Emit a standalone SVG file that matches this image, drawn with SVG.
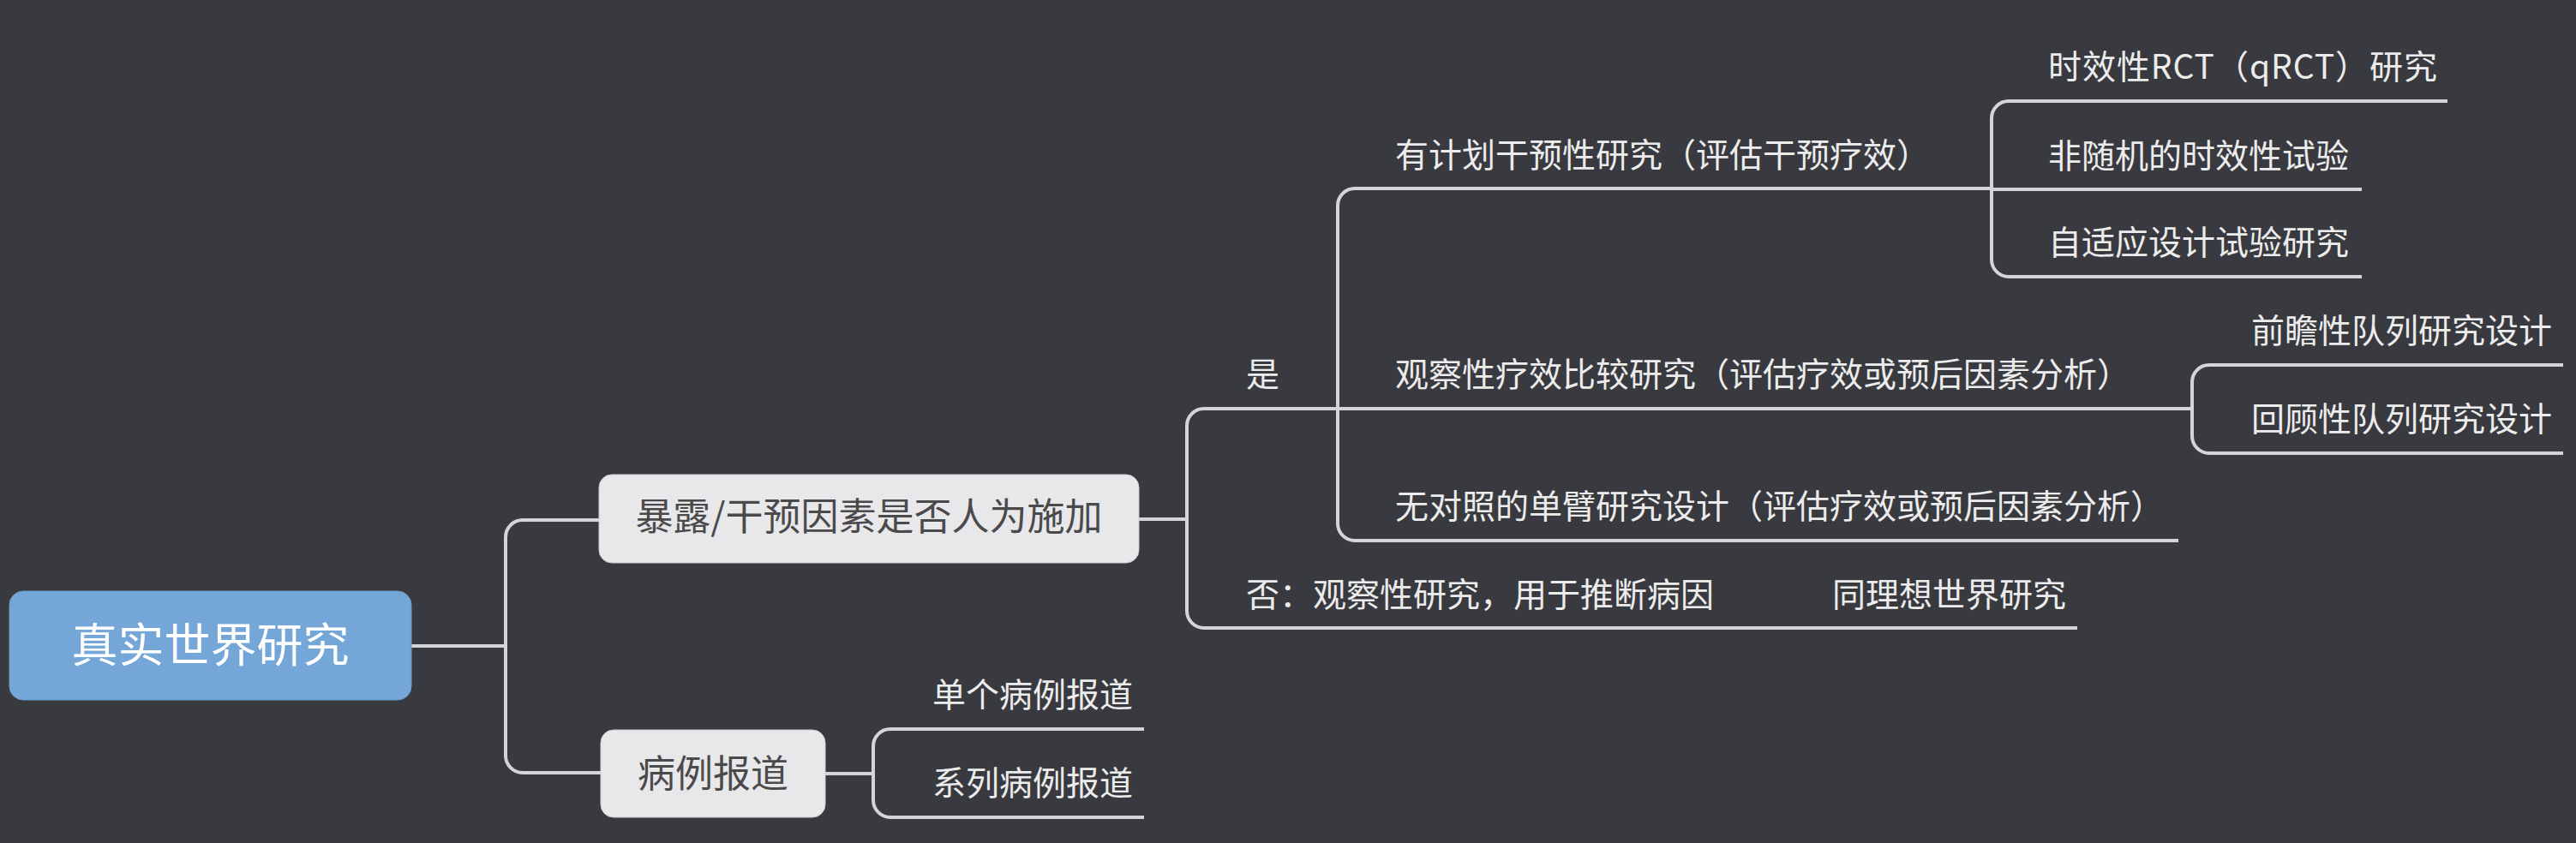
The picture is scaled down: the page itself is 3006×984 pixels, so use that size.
<svg xmlns="http://www.w3.org/2000/svg" width="3006" height="984" viewBox="0 0 3006 984">
<style>
.bg{fill:#393a3f}
.conn path{fill:none;stroke:#d5d5d7;stroke-width:4;stroke-linecap:butt}
.root rect{fill:#74a7d7;stroke:#6b9ccb;stroke-width:1}
.node rect{fill:#e8e8ea;stroke:#cfcfd2;stroke-width:1}
text{font-family:"Noto Sans CJK SC","Noto Sans",sans-serif}
.rt{font-size:54px;fill:#ffffff;text-anchor:middle}
.nt{font-size:44px;fill:#4a4a4c;text-anchor:middle}
.lt{font-size:39px;fill:#ececec}
</style>
<rect class="bg" x="0" y="0" width="3006" height="984"/>
<g id="connectors" class="conn">
<path d="M479,754 H590"/>
<path d="M699,607 H610 A20 20 0 0 0 590,627 V882 A20 20 0 0 0 610,902 H701"/>
<path d="M1329,606 H1385"/>
<path d="M2558,477 H1405 A20 20 0 0 0 1385,497 V713 A20 20 0 0 0 1405,733 H2424"/>
<path d="M2324,220 H1581 A20 20 0 0 0 1561,240 V611 A20 20 0 0 0 1581,631 H2542"/>
<path d="M2856,118 H2344 A20 20 0 0 0 2324,138 V303 A20 20 0 0 0 2344,323 H2756"/>
<path d="M2324,221 H2756"/>
<path d="M2991,426 H2578 A20 20 0 0 0 2558,446 V509 A20 20 0 0 0 2578,529 H2991"/>
<path d="M963,903 H1019"/>
<path d="M1335,851 H1039 A20 20 0 0 0 1019,871 V934 A20 20 0 0 0 1039,954 H1335"/>
</g>
<g id="root" class="root">
<rect x="11" y="690" width="469" height="127" rx="16"/>
<text class="rt" x="245.5" y="773">真实世界研究</text>
</g>
<g id="n-exposure" class="node">
<rect x="699" y="554" width="630" height="103" rx="15"/>
<text class="nt" x="1014" y="619">暴露/干预因素是否人为施加</text>
</g>
<g id="n-case" class="node">
<rect x="701" y="852" width="262" height="102" rx="15"/>
<text class="nt" x="832" y="919">病例报道</text>
</g>
<g id="l-yes"><text class="lt" x="1454" y="451">是</text></g>
<g id="l-no"><text class="lt" x="1454" y="708">否：观察性研究，用于推断病因</text></g>
<g id="l-ideal"><text class="lt" x="2138" y="708">同理想世界研究</text></g>
<g id="l-planned"><text class="lt" x="1628" y="195">有计划干预性研究（评估干预疗效）</text></g>
<g id="l-observe"><text class="lt" x="1628" y="451">观察性疗效比较研究（评估疗效或预后因素分析）</text></g>
<g id="l-single"><text class="lt" x="1628" y="605">无对照的单臂研究设计（评估疗效或预后因素分析）</text></g>
<g id="l-qrct"><text class="lt" x="2390" y="92" textLength="454" lengthAdjust="spacing">时效性RCT（qRCT）研究</text></g>
<g id="l-nonrand"><text class="lt" x="2390" y="196">非随机的时效性试验</text></g>
<g id="l-adaptive"><text class="lt" x="2390" y="297">自适应设计试验研究</text></g>
<g id="l-prosp"><text class="lt" x="2627" y="400">前瞻性队列研究设计</text></g>
<g id="l-retro"><text class="lt" x="2627" y="503">回顾性队列研究设计</text></g>
<g id="l-case1"><text class="lt" x="1088" y="825">单个病例报道</text></g>
<g id="l-case2"><text class="lt" x="1088" y="928">系列病例报道</text></g>
</svg>
